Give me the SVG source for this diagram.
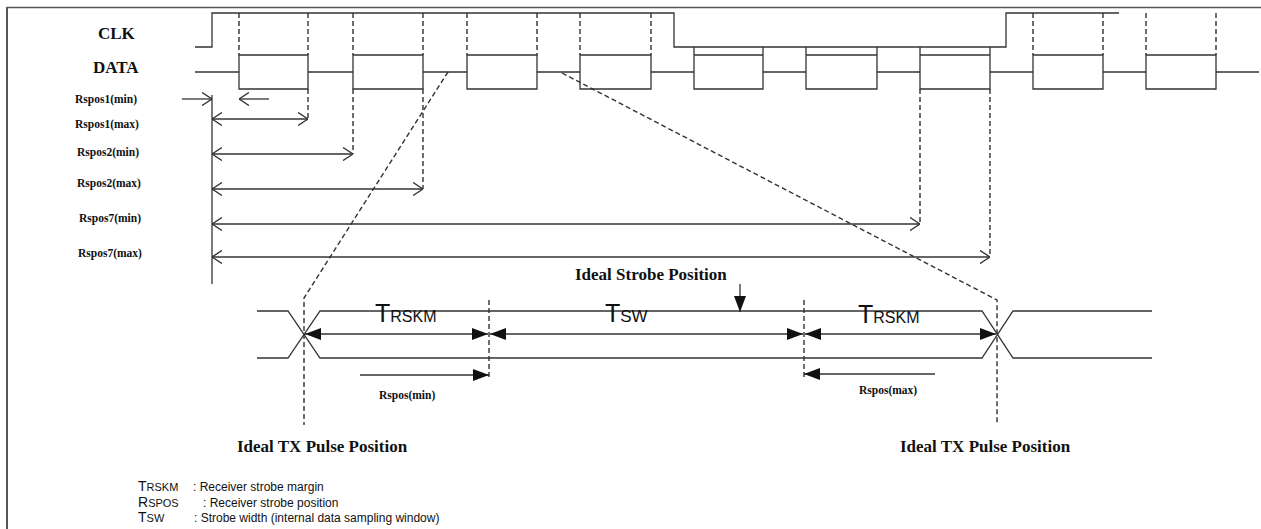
<svg xmlns="http://www.w3.org/2000/svg" width="1261" height="529" viewBox="0 0 1261 529">
<style>
.ln{fill:none;stroke:#333;stroke-width:1.3}
.ds{fill:none;stroke:#333;stroke-width:1.4;stroke-dasharray:5 3}
.hd{font-family:"Liberation Serif","Times New Roman",serif;font-weight:bold;font-size:17px;fill:#111}
.lb{font-family:"Liberation Serif","Times New Roman",serif;font-weight:bold;font-size:11.5px;fill:#111}
.sn{font-family:"Liberation Sans",Arial,sans-serif;fill:#111}
</style>
<defs>
<marker id="open" viewBox="0 0 10 14" refX="10" refY="7" markerWidth="10" markerHeight="14" markerUnits="userSpaceOnUse" orient="auto-start-reverse"><path d="M0,0.5 L10,7 L0,13.5" fill="none" stroke="#333" stroke-width="1.4"/></marker>
<marker id="solid" viewBox="0 0 16 12" refX="16" refY="6" markerWidth="16" markerHeight="12" markerUnits="userSpaceOnUse" orient="auto-start-reverse"><path d="M0,0 L16,6 L0,12 Z" fill="#111"/></marker>
</defs>
<rect width="1261" height="529" fill="#fff"/>
<g id="frame">
<path d="M7,7.5 H1261" stroke="#555" stroke-width="1.5" fill="none"/>
<path d="M7,7 V529" stroke="#555" stroke-width="2" fill="none"/>
</g>
<g id="signal-labels">
<text class="hd" x="98" y="39">CLK</text>
<text class="hd" x="93" y="73">DATA</text>
</g>
<g id="clk">
<path class="ln" d="M195,47 H212 V13 H674 V47 H1006 V13 H1119"/>
</g>
<g id="data">
<path class="ln" d="M195,72 H239 M308,72 H353 M423,72 H467 M537,72 H580 M651,72 H694 M763,72 H806 M877,72 H920 M990,72 H1033 M1103,72 H1146 M1216,72 H1259"/>
<path class="ln" d="M239,55 H308 V89 H239 Z M353,55 H423 V89 H353 Z M467,55 H537 V89 H467 Z M580,55 H651 V89 H580 Z M1033,55 H1103 V89 H1033 Z M1146,55 H1216 V89 H1146 Z"/>
<path class="ln" d="M694,47 V89 H763 V47 M694,55 H763 M806,47 V89 H877 V47 M806,55 H877 M920,47 V89 H990 V47 M920,55 H990"/>
<path class="ds" d="M239,13 V55 M308,13 V55 M353,13 V55 M423,13 V55 M467,13 V55 M537,13 V55 M580,13 V55 M651,13 V55 M1033,13 V55 M1103,13 V55 M1146,13 V55 M1216,13 V55"/>
<path class="ds" d="M308,89 V119 M353,89 V154 M423,89 V189 M920,89 V224 M990,89 V257"/>
</g>
<g id="rspos-labels">
<text class="lb" x="75" y="103">Rspos1(min)</text>
<text class="lb" x="75" y="128">Rspos1(max)</text>
<text class="lb" x="77" y="156">Rspos2(min)</text>
<text class="lb" x="77" y="187">Rspos2(max)</text>
<text class="lb" x="79" y="222">Rspos7(min)</text>
<text class="lb" x="78" y="257">Rspos7(max)</text>
</g>
<g id="rspos-arrows">
<path class="ln" d="M212,95 V284" stroke-width="1.8"/>
<path class="ln" d="M182,99 H212" marker-end="url(#open)"/>
<path class="ln" d="M269,99 H239" marker-end="url(#open)"/>
<path class="ln" d="M212,119 H308" marker-start="url(#open)" marker-end="url(#open)"/>
<path class="ln" d="M212,154 H353" marker-start="url(#open)" marker-end="url(#open)"/>
<path class="ln" d="M212,189 H423" marker-start="url(#open)" marker-end="url(#open)"/>
<path class="ln" d="M212,224 H920" marker-start="url(#open)" marker-end="url(#open)"/>
<path class="ln" d="M212,257 H990" marker-start="url(#open)" marker-end="url(#open)"/>
</g>
<g id="zoom-lines">
<path class="ds" d="M448,72 L304,298 V425"/>
<path class="ds" d="M562,73 L997,300 V425"/>
<path class="ds" d="M489,300 V378 M804,300 V378"/>
</g>
<g id="eye">
<path class="ln" d="M257,311 H288 L320,358 H982 L1013,311 H1152"/>
<path class="ln" d="M257,358 H288 L320,311 H982 L1013,358 H1152"/>
</g>
<g id="eye-arrows">
<path class="ln" d="M305,334 H488" marker-start="url(#solid)" marker-end="url(#solid)"/>
<path class="ln" d="M490,334 H803" marker-start="url(#solid)" marker-end="url(#solid)"/>
<path class="ln" d="M805,334 H996" marker-start="url(#solid)" marker-end="url(#solid)"/>
<path class="ln" d="M360,375 H489" marker-end="url(#solid)"/>
<path class="ln" d="M935,374 H804" marker-end="url(#solid)"/>
<path class="ln" d="M740,284 V312" marker-end="url(#solid)"/>
</g>
<g id="eye-labels">
<text class="sn" x="375" y="322"><tspan font-size="25">T</tspan><tspan font-size="16">RSKM</tspan></text>
<text class="sn" x="605" y="322"><tspan font-size="25">T</tspan><tspan font-size="17">SW</tspan></text>
<text class="sn" x="858" y="323"><tspan font-size="25">T</tspan><tspan font-size="16">RSKM</tspan></text>
<text class="hd" x="575" y="280">Ideal Strobe Position</text>
<text class="lb" x="379" y="399">Rspos(min)</text>
<text class="lb" x="859" y="394">Rspos(max)</text>
<text class="hd" x="237" y="452">Ideal TX Pulse Position</text>
<text class="hd" x="900" y="452">Ideal TX Pulse Position</text>
</g>
<g id="legend">
<text class="sn" x="138" y="491"><tspan font-size="14">T</tspan><tspan font-size="11">RSKM</tspan></text>
<text class="sn" x="193" y="491" font-size="12">: Receiver strobe margin</text>
<text class="sn" x="138" y="506.5"><tspan font-size="14">R</tspan><tspan font-size="11">SPOS</tspan></text>
<text class="sn" x="203" y="506.5" font-size="12">: Receiver strobe position</text>
<text class="sn" x="138" y="522"><tspan font-size="14">T</tspan><tspan font-size="11">SW</tspan></text>
<text class="sn" x="194" y="522" font-size="12">: Strobe width (internal data sampling window)</text>
</g>
</svg>
